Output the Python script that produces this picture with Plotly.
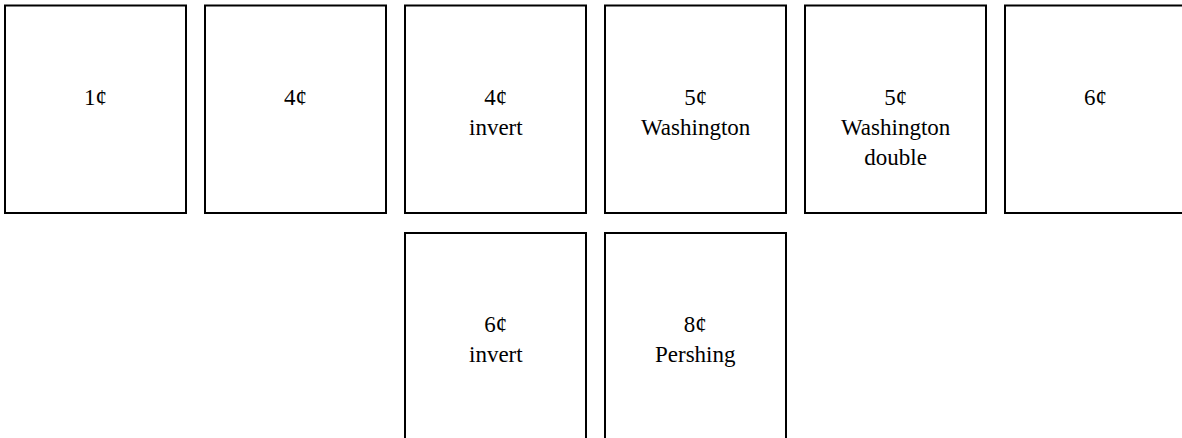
import plotly.graph_objects as go

# Data
labels = ["1¢", "4¢", "4¢<br>invert", "5¢<br>Washington", "5¢<br>Washington<br>double",
          "6¢", "6¢<br>invert", "8¢<br>Pershing"]
cols = [0, 1, 2, 3, 4, 5, 2, 3]
rows = [0, 0, 0, 0, 0, 0, 1, 1]

# Layout constants (pixels)
W, H = 1182, 438
X0, Y0 = 5.0, 5.5
BOX_W, BOX_H = 181.0, 207.5
PITCH_X, PITCH_Y = 200.0, 227.5
TEXT_TOP = 82.5
FONT = "Times New Roman, Liberation Serif, serif"

fig = go.Figure()
shapes = []
annotations = []
for lab, c, r in zip(labels, cols, rows):
    x0 = X0 + PITCH_X * c
    y0 = Y0 + PITCH_Y * r
    shapes.append(dict(type="rect", xref="x", yref="y",
                       x0=x0, x1=x0 + BOX_W, y0=y0, y1=y0 + BOX_H,
                       line=dict(color="black", width=2), fillcolor="white", layer="below"))
    annotations.append(dict(x=x0 + BOX_W / 2, y=y0 + (TEXT_TOP - Y0), xref="x", yref="y",
                            text=lab, showarrow=False, xanchor="center", yanchor="top",
                            align="center", font=dict(family=FONT, size=23, color="black")))

fig.update_layout(
    width=W, height=H,
    margin=dict(l=0, r=0, t=0, b=0),
    paper_bgcolor="white", plot_bgcolor="white",
    xaxis=dict(range=[0, W], visible=False, fixedrange=True),
    yaxis=dict(range=[H, 0], visible=False, fixedrange=True),
    shapes=shapes, annotations=annotations, showlegend=False,
)
fig.write_html("out.html", config={"displayModeBar": False},
               post_script="document.body.style.margin='0';")
